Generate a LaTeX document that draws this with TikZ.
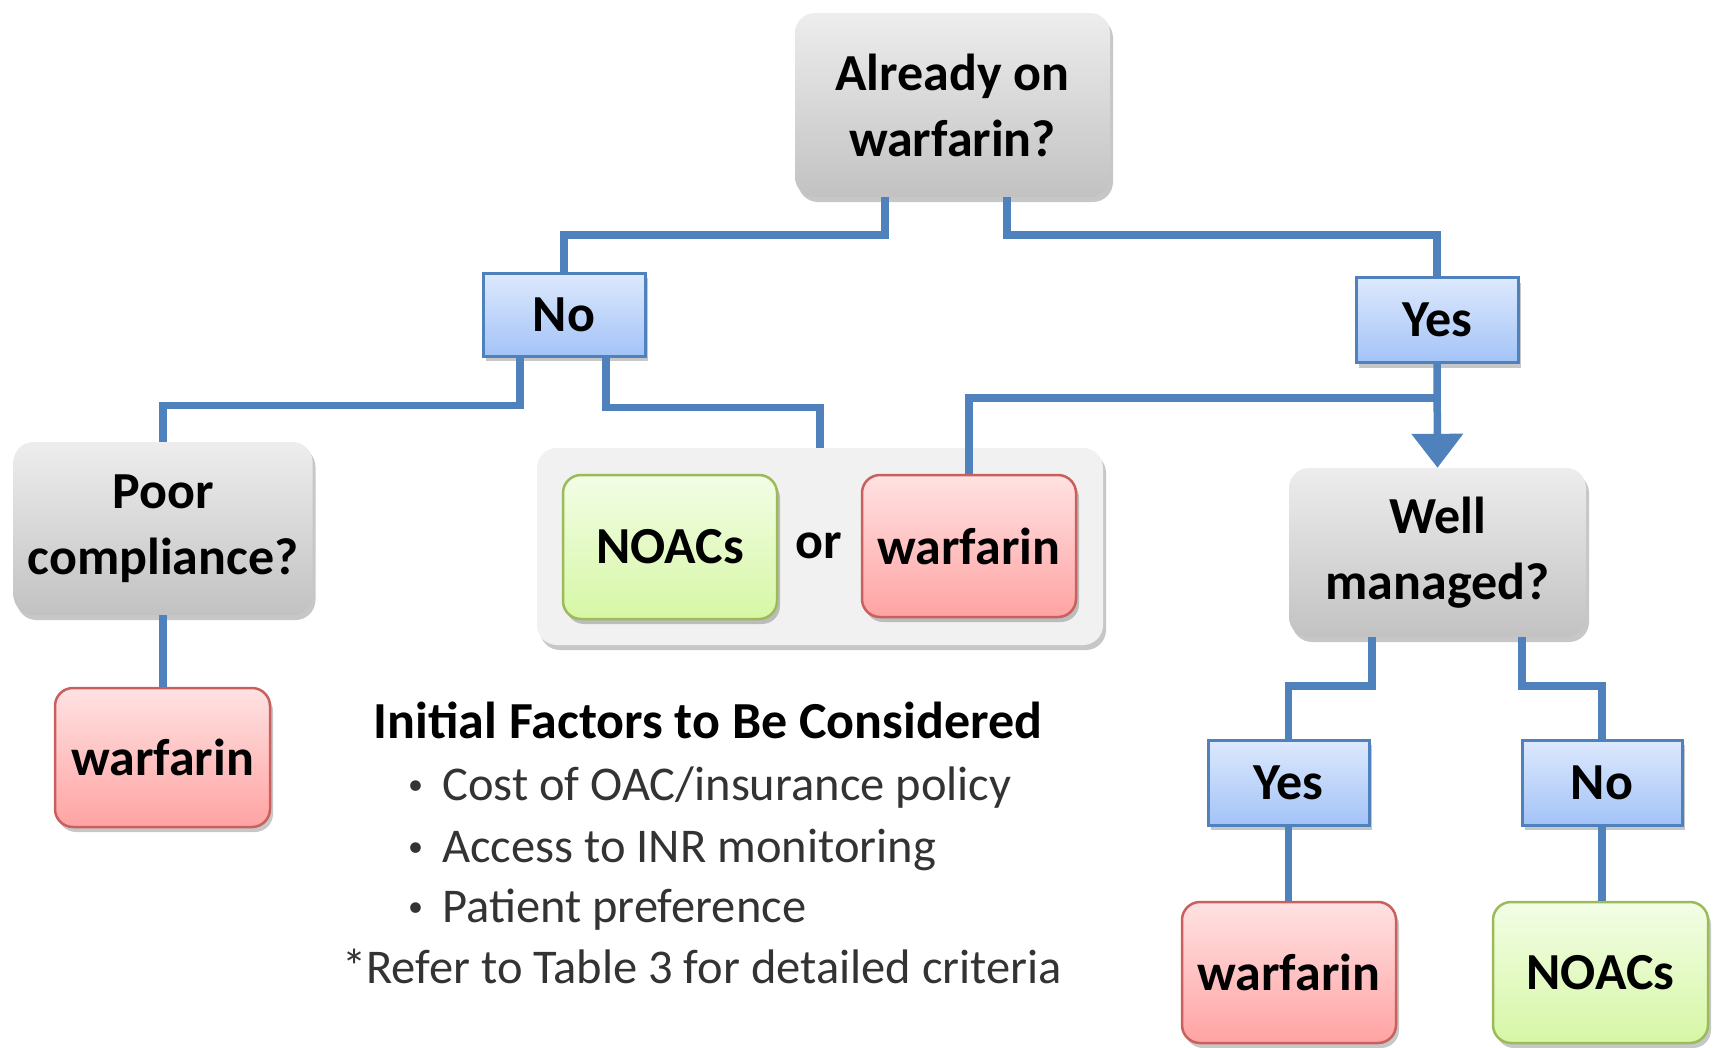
\documentclass[tikz,border=0pt]{standalone}
\usepackage{fontspec}
\setmainfont{Carlito}
\usetikzlibrary{shadows,arrows.meta,calc}
\definecolor{lineblue}{HTML}{4F81BD}
\definecolor{gtop}{HTML}{EDEDED}
\definecolor{gbot}{HTML}{C2C2C2}
\definecolor{btop}{HTML}{DDE9FD}
\definecolor{bbot}{HTML}{A3C3F7}
\definecolor{rtop}{HTML}{FFE2E2}
\definecolor{rbot}{HTML}{FFA3A3}
\definecolor{rdraw}{HTML}{C9605D}
\definecolor{ntop}{HTML}{F3FDE6}
\definecolor{nbot}{HTML}{D6F7A5}
\definecolor{ndraw}{HTML}{9BBB59}
\definecolor{grpfill}{HTML}{F1F1F1}
\definecolor{txtgray}{HTML}{333333}
\begin{document}
\begin{tikzpicture}[x=1pt,y=-1pt,
  shad/.style={drop shadow={shadow xshift=3pt,shadow yshift=-5pt,fill=black,opacity=0.22}},
  boxtext/.style={font=\fontsize{52}{66}\selectfont\bfseries, align=center, inner sep=0pt},
  gq/.style={boxtext, shad, rounded corners=20pt, top color=gtop, bottom color=gbot},
  bb/.style={boxtext, shad, draw=lineblue, line width=3pt, top color=btop, bottom color=bbot},
  rb/.style={boxtext, shad, rounded corners=18pt, draw=rdraw, line width=2.5pt, top color=rtop, bottom color=rbot},
  nb/.style={boxtext, shad, rounded corners=18pt, draw=ndraw, line width=2.5pt, top color=ntop, bottom color=nbot},
  grpbox/.style={shad, rounded corners=20pt, fill=grpfill, inner sep=0pt},
  conn/.style={draw=lineblue, line width=7.5pt},
  heading/.style={font=\fontsize{52}{60}\selectfont\bfseries, anchor=base, inner sep=0pt},
  bul/.style={font=\fontsize{48.5}{58}\selectfont, text=txtgray, anchor=base west, inner sep=0pt},
  buldot/.style={font=\fontsize{30}{36}\selectfont, text=txtgray, anchor=base west, inner sep=0pt}
]
\useasboundingbox (0,0) rectangle (1713,1047);
\fill[white] (0,0) rectangle (1713,1047);

% group box
\node[grpbox, minimum width=566pt, minimum height=197pt] (grp) at (820,546.5) {};

% nodes
\node[gq, minimum width=315pt, minimum height=184pt] (q1) at (952.5,105) {Already on\\warfarin?};
\node[bb, minimum width=162pt, minimum height=83pt] (no1) at (564,314.5) {No};
\node[bb, minimum width=162pt, minimum height=85pt] (yes1) at (1437,320) {Yes};
\node[gq, minimum width=299pt, minimum height=173pt] (q2) at (163,528.5) {Poor\\compliance?};
\node[rb, minimum width=215pt, minimum height=139pt] (w1) at (162.5,757.5) {warfarin};
\node[nb, minimum width=214pt, minimum height=144pt] (n1) at (670,547) {NOACs};
\node[boxtext] (or) at (819,546) {or};
\node[rb, minimum width=214pt, minimum height=142pt] (w2) at (969,546) {warfarin};
\node[gq, minimum width=297pt, minimum height=169pt] (q3) at (1437.5,552.5) {Well\\managed?};
\node[bb, minimum width=161pt, minimum height=85pt] (yes2) at (1288.5,782.5) {Yes};
\node[bb, minimum width=160pt, minimum height=85pt] (no2) at (1602,782.5) {No};
\node[rb, minimum width=214pt, minimum height=141pt] (w3) at (1289,972.5) {warfarin};
\node[nb, minimum width=215pt, minimum height=141pt] (n2) at (1600.5,972.5) {NOACs};

% text block
\node[heading] (hd) at (708,738) {Initial Factors to Be Considered};
\node[buldot] (b1d) at (408,794) {\textbullet};
\node[bul] (b1) at (442,800) {Cost of OAC/insurance policy};
\node[buldot] (b2d) at (408,856) {\textbullet};
\node[bul] (b2) at (442,862) {Access to INR monitoring};
\node[buldot] (b3d) at (408,916) {\textbullet};
\node[bul] (b3) at (442,922) {Patient preference};
\node[bul] (ref) at (342,983) {*Refer to Table 3 for detailed criteria};

% connectors
\coordinate (j) at ([yshift=-34pt]yes1.south);
\draw[conn] ([xshift=-67.5pt]q1.south) -- ++(0,38) -| (no1.north);
\draw[conn] ([xshift=54.5pt]q1.south) -- ++(0,38) -| (yes1.north);
\draw[conn] ([xshift=-44pt]no1.south) -- ++(0,48) -| (q2.north);
\draw[conn] ([xshift=42pt]no1.south) -- ++(0,50) -| (grp.north);
\draw[conn] (w2.north) |- (j);
\draw[conn, -{Triangle[width=50pt,length=34pt]}] (yes1.south) -- (q3.north);
\draw[conn] (q2.south) -- (q2.south |- w1.north);
\draw[conn] ([xshift=-65.5pt]q3.south) -- ++(0,49) -| (yes2.north);
\draw[conn] ([xshift=84.5pt]q3.south) -- ++(0,49) -| (no2.north);
\draw[conn] (yes2.south) -- (yes2.south |- w3.north);
\draw[conn] (no2.south) -- (no2.south |- n2.north);
\end{tikzpicture}
\end{document}
